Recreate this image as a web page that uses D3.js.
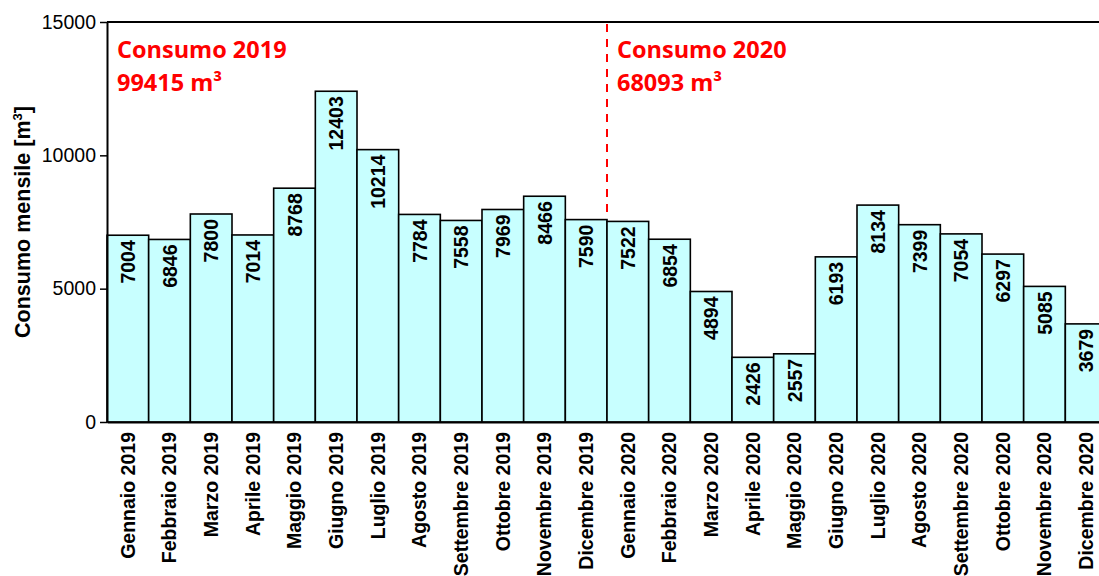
<!DOCTYPE html>
<html><head><meta charset="utf-8">
<script src="https://cdn.jsdelivr.net/npm/d3@7"></script>
<style>body{margin:0;background:#fff;}svg{display:block;}</style>
</head><body>
<svg id="c" width="1099" height="576"></svg>
<script>
const months = ["Gennaio 2019","Febbraio 2019","Marzo 2019","Aprile 2019","Maggio 2019","Giugno 2019","Luglio 2019","Agosto 2019","Settembre 2019","Ottobre 2019","Novembre 2019","Dicembre 2019","Gennaio 2020","Febbraio 2020","Marzo 2020","Aprile 2020","Maggio 2020","Giugno 2020","Luglio 2020","Agosto 2020","Settembre 2020","Ottobre 2020","Novembre 2020","Dicembre 2020"];
const values = [7004,6846,7800,7014,8768,12403,10214,7784,7558,7969,8466,7590,7522,6854,4894,2426,2557,6193,8134,7399,7054,6297,5085,3679];
const yTicks = [0,5000,10000,15000];
const annotations = [
  {month:"Gennaio 2019", line1:"Consumo 2019", line2:"99415 m\u00B3"},
  {month:"Gennaio 2020", line1:"Consumo 2020", line2:"68093 m\u00B3"}
];

const svg = d3.select("#c");
const mLeft = 107, mTop = 22, mBottom = 422, mRight = 1107;
const x = d3.scaleBand().domain(months).range([mLeft, mRight]).padding(0);
const y = d3.scaleLinear().domain([0,15000]).range([mBottom, mTop]);
const FONT = "Liberation Sans, Arial, sans-serif";

// bars
svg.append("g").selectAll("rect").data(values).join("rect")
  .attr("x", (d,i)=>x(months[i]))
  .attr("y", d=>y(d))
  .attr("width", x.bandwidth())
  .attr("height", d=>y(0)-y(d))
  .attr("fill","#c8ffff")
  .attr("stroke","#000")
  .attr("stroke-width",1.6);

// value labels
svg.append("g").selectAll("text").data(values).join("text")
  .attr("transform",(d,i)=>`translate(${x(months[i])+x.bandwidth()/2+7},${y(d)+5}) rotate(-90)`)
  .attr("text-anchor","end")
  .attr("font-family",FONT)
  .attr("font-weight","bold")
  .attr("font-size",19.5)
  .attr("fill","#000")
  .text(d=>d);

// top border
svg.append("line").attr("x1",mLeft).attr("x2",1099).attr("y1",mTop).attr("y2",mTop)
  .attr("stroke","#000").attr("stroke-width",2);

// y axis
const ya = svg.append("g").attr("transform",`translate(${mLeft},0)`)
  .call(d3.axisLeft(y).tickValues(yTicks).tickSize(7).tickPadding(4).tickSizeOuter(0).tickFormat(d3.format("d")));
ya.select(".domain").attr("stroke","#000").attr("stroke-width",2);
ya.selectAll(".tick line").attr("stroke","#000").attr("stroke-width",1.5);
ya.selectAll(".tick text").attr("font-family",FONT).attr("font-size",19.5).attr("fill","#000");

// x axis
const xa = svg.append("g").attr("transform",`translate(0,${mBottom})`)
  .call(d3.axisBottom(x).tickSize(0).tickSizeOuter(0));
xa.select(".domain").attr("stroke","#000").attr("stroke-width",2);
xa.selectAll(".tick text")
  .attr("font-family",FONT)
  .attr("font-weight","bold").attr("font-size",19.5).attr("fill","#000")
  .attr("transform","translate(0,10) rotate(-90)")
  .attr("text-anchor","end").attr("dy","0.35em").attr("y",0).attr("x",0);

// y label
svg.append("text")
  .attr("transform",`translate(30,${(mTop+mBottom)/2}) rotate(-90)`)
  .attr("text-anchor","middle")
  .attr("font-family",FONT)
  .attr("font-weight","bold").attr("font-size",21.5)
  .html('Consumo mensile [m<tspan dy="-8" font-size="13">3</tspan><tspan dy="8">]</tspan>');

// dashed separator
const sepX = x("Gennaio 2020");
svg.append("line").attr("x1",sepX).attr("x2",sepX).attr("y1",mTop+2).attr("y2",212)
  .attr("stroke","#ff0000").attr("stroke-width",2).attr("stroke-dasharray","8,7");

// annotations
annotations.forEach(a=>{
  const ax = x(a.month)+10;
  const t = svg.append("text").attr("font-family","Open Sans, Lato, sans-serif")
    .attr("font-weight","bold").attr("font-size",23.5).attr("fill","#ff0000");
  t.append("tspan").attr("x",ax).attr("y",58).text(a.line1);
  t.append("tspan").attr("x",ax).attr("y",91).text(a.line2);
});
</script>
</body></html>
